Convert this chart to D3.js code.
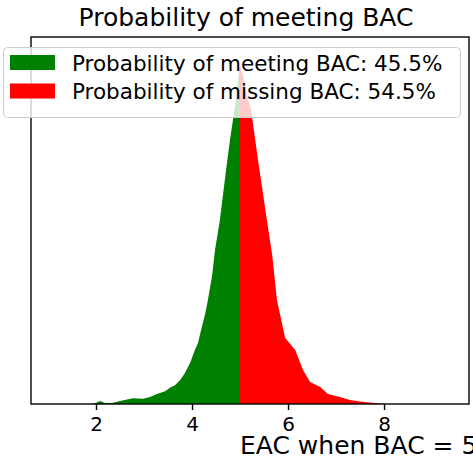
<!DOCTYPE html>
<meta charset="utf-8">
<style>
body { margin: 0; background: #fff; }
svg, text { font-family: 'DejaVu Sans', sans-serif; }
</style>
<body>
<script src="https://d3js.org/d3.v7.min.js"></script>
<script>

// EAC values and estimated density
var eac = [1.875, 2.0, 2.083, 2.19, 2.33, 2.5, 2.77, 2.98, 3.125, 3.27, 3.44, 3.54, 3.65, 3.75, 3.85, 3.96,
           4.06, 4.125, 4.19, 4.27, 4.33, 4.42, 4.48, 4.58, 4.71, 4.79, 4.90, 4.96, 5.0,
           5.06, 5.17, 5.23, 5.375, 5.56, 5.67, 5.77, 5.94, 6.15, 6.31, 6.46, 6.67, 6.83,
           7.08, 7.29, 7.5, 7.65, 7.81, 8.02];
var density = [0, 0.003, 0.008, 0.003, 0.003, 0.008, 0.016, 0.014, 0.019, 0.027, 0.035, 0.044, 0.052, 0.065, 0.084, 0.112,
               0.147, 0.166, 0.202, 0.243, 0.283, 0.351, 0.420, 0.501, 0.638, 0.719, 0.815, 0.883, 0.924,
               0.896, 0.828, 0.801, 0.665, 0.501, 0.406, 0.283, 0.180, 0.147, 0.093, 0.060, 0.046, 0.027,
               0.019, 0.011, 0.007, 0.005, 0.003, 0];
var bac = 5;
var xTicks = [2, 4, 6, 8];
var legendLabels = ["Probability of meeting BAC: 45.5%", "Probability of missing BAC: 54.5%"];
var colors = ["green", "red"];

var W = 473, H = 459;
var margin = {top: 37, right: 4, bottom: 55, left: 31};
var width = W - margin.left - margin.right,
    height = H - margin.top - margin.bottom;

var svg = d3.select("body").append("svg")
    .attr("width", W)
    .attr("height", H);

var x = d3.scaleLinear().domain([0.646, 9.77]).range([0, width]);
var y = d3.scaleLinear().domain([0, 1]).range([height, 0]);

var pts = eac.map(function(d, i) { return [d, density[i]]; });
var meet = pts.filter(function(d) { return d[0] <= bac; });
var miss = pts.filter(function(d) { return d[0] >= bac; });

var area = d3.area()
    .x(function(d) { return x(d[0]); })
    .y0(y(0))
    .y1(function(d) { return y(d[1]); });

var g = svg.append("g")
    .attr("transform", "translate(" + margin.left + "," + margin.top + ")");

g.append("path").datum(meet).attr("fill", colors[0]).attr("d", area);
g.append("path").datum(miss).attr("fill", colors[1]).attr("d", area);

// frame
g.append("rect")
    .attr("width", width).attr("height", height)
    .attr("fill", "none").attr("stroke", "#000").attr("stroke-width", 1.4);

var xAxis = d3.axisBottom(x).tickValues(xTicks).tickSize(6).tickPadding(7)
    .tickFormat(d3.format("d"));
var ax = g.append("g")
    .attr("transform", "translate(0," + height + ")")
    .call(xAxis);
ax.select(".domain").remove();
ax.selectAll("line").attr("stroke-width", 1.4);
ax.selectAll("text").attr("font-size", 20).attr("fill", "#000")
    .attr("font-family", "'DejaVu Sans', sans-serif");

// title
svg.append("text")
    .attr("x", 246).attr("y", 26)
    .attr("text-anchor", "middle")
    .attr("font-size", 25)
    .text("Probability of meeting BAC");

// x label (runs off the right edge like the original)
svg.append("text")
    .attr("x", 240).attr("y", 454)
    .attr("font-size", 25)
    .text("EAC when BAC = 5");

// legend
var leg = svg.append("g");
leg.append("rect")
    .attr("x", 3.5).attr("y", 47.5).attr("width", 457).attr("height", 70)
    .attr("rx", 4)
    .attr("fill", "#fff").attr("fill-opacity", 0.8)
    .attr("stroke", "#ccc").attr("stroke-width", 1);

legendLabels.forEach(function(t, i) {
    var yy = 55 + i * 28.5;
    leg.append("rect")
        .attr("x", 10).attr("y", yy).attr("width", 45).attr("height", 15)
        .attr("fill", colors[i]);
    leg.append("text")
        .attr("x", 72).attr("y", yy + 15.5)
        .attr("font-size", 21.5)
        .text(t);
});

</script>
</body>
